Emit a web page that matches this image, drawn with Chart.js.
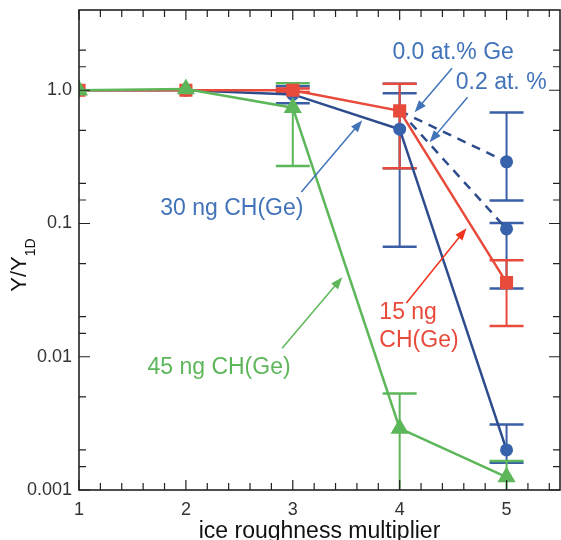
<!DOCTYPE html>
<html>
<head>
<meta charset="utf-8">
<script src="https://cdn.jsdelivr.net/npm/chart.js@4/dist/chart.umd.min.js"></script>
<style>
  html, body { margin: 0; padding: 0; background: #fff; overflow: hidden; }
  canvas { display: block; }
</style>
</head>
<body>
<canvas id="myChart" width="561" height="540"></canvas>
<script>
// Data
const roughness = [1, 2, 3, 4, 5];

const ng15 = [1.0, 1.0, 1.0, 0.70, 0.036];
const ng15Lo = [null, null, 0.97, 0.26, 0.017];
const ng15Hi = [null, null, 1.03, 1.12, 0.053];

const ng30 = [1.0, 1.0, 0.93, 0.51, 0.002];
const ng30Lo = [null, null, 0.80, 0.067, 0.0016];
const ng30Hi = [null, null, 1.07, 0.95, 0.0031];

const ng45 = [1.0, 1.02, 0.74, 0.0029, 0.00125];
const ng45Lo = [null, null, 0.27, 0.0005, 0.0008];
const ng45Hi = [null, null, 1.13, 0.0053, 0.00165];

const geX = [4, 5];
const ge00 = [0.70, 0.29];
const ge00Lo = [0.26, 0.149];
const ge00Hi = [1.12, 0.68];
const ge02 = [0.70, 0.091];
const ge02Lo = [null, 0.0325];
const ge02Hi = [null, 0.101];

const yTicks = [0.001, 0.01, 0.1, 1];
const yTickLabels = ['0.001', '0.01', '0.1', '1.0'];
const xTicks = [1, 2, 3, 4, 5];

// Colours
const red = '#e84b3b';
const green = '#5db75a';
const blueLine = '#2d4c8e';
const blueDot = '#3763ad';
const blueBar = '#3a5fa6';
const blueText = '#4273b9';
const font = '"Liberation Sans", Arial, sans-serif';

function pts(xs, ys) {
  return xs.map((x, i) => ({x: x, y: ys[i]}));
}

// error bars: drawn under the lines
const errorSets = [
  {x: geX, y: ge00, lo: ge00Lo, hi: ge00Hi, color: blueBar},
  {x: geX, y: ge02, lo: ge02Lo, hi: ge02Hi, color: blueBar},
  {x: roughness, y: ng30, lo: ng30Lo, hi: ng30Hi, color: blueBar},
  {x: roughness, y: ng15, lo: ng15Lo, hi: ng15Hi, color: red},
  {x: roughness, y: ng45, lo: ng45Lo, hi: ng45Hi, color: green}
];

// annotation text + arrows, in data units
const notes = [
  {text: '0.0 at.% Ge', x: 4.50, y: 1.93, color: blueText, align: 'center'},
  {text: '0.2 at. %', x: 4.95, y: 1.13, color: blueText, align: 'center'},
  {text: '30 ng CH(Ge)', x: 2.43, y: 0.130, color: blueText, align: 'center'},
  {text: '15 ng', x: 3.81, y: 0.0216, color: red, align: 'left'},
  {text: 'CH(Ge)', x: 3.81, y: 0.0131, color: red, align: 'left'},
  {text: '45 ng CH(Ge)', x: 2.31, y: 0.00834, color: green, align: 'center'}
];
const arrows = [
  {x1: 4.49, y1: 1.46, x2: 4.14, y2: 0.684, color: blueText},
  {x1: 4.635, y1: 0.886, x2: 4.28, y2: 0.407, color: blueText},
  {x1: 3.08, y1: 0.172, x2: 3.65, y2: 0.596, color: blueText},
  {x1: 4.063, y1: 0.0253, x2: 4.625, y2: 0.0921, color: '#f0321e'},
  {x1: 2.90, y1: 0.0116, x2: 3.464, y2: 0.0395, color: green}
];

const decorPlugin = {
  id: 'decor',
  beforeDatasetsDraw(chart) {
    const ctx = chart.ctx, a = chart.chartArea;
    const xs = chart.scales.x, ys = chart.scales.y;
    ctx.save();
    ctx.beginPath();
    ctx.rect(a.left, a.top, a.right - a.left, a.bottom - a.top);
    ctx.clip();
    errorSets.forEach(s => {
      ctx.strokeStyle = s.color;
      s.x.forEach((xv, i) => {
        if (s.lo[i] == null) return;
        const px = xs.getPixelForValue(xv);
        const pLo = ys.getPixelForValue(s.lo[i]);
        const pHi = ys.getPixelForValue(s.hi[i]);
        ctx.lineWidth = 2;
        ctx.beginPath();
        ctx.moveTo(px, pLo);
        ctx.lineTo(px, pHi);
        ctx.stroke();
        ctx.lineWidth = 2.5;
        ctx.beginPath();
        ctx.moveTo(px - 17, pLo); ctx.lineTo(px + 17, pLo);
        ctx.moveTo(px - 17, pHi); ctx.lineTo(px + 17, pHi);
        ctx.stroke();
      });
    });
    ctx.restore();
  },
  afterDatasetsDraw(chart) {
    const ctx = chart.ctx, a = chart.chartArea;
    const xs = chart.scales.x, ys = chart.scales.y;
    ctx.save();

    // frame
    ctx.strokeStyle = '#222';
    ctx.lineWidth = 1.6;
    ctx.strokeRect(a.left, a.top, a.right - a.left, a.bottom - a.top);

    // inward ticks
    ctx.lineWidth = 1.2;
    ctx.beginPath();
    for (let v = 1; v <= 5.45; v += 0.2) {
      const px = xs.getPixelForValue(v);
      const major = Math.abs(v - Math.round(v)) < 0.01;
      const len = major ? 10 : 7;
      ctx.moveTo(px, a.bottom); ctx.lineTo(px, a.bottom - len);
      ctx.moveTo(px, a.top); ctx.lineTo(px, a.top + len);
    }
    yTicks.forEach(d => {
      [[1, 11], [1.5, 7], [2, 7], [5, 7]].forEach(m => {
        const v = d * m[0];
        if (v > ys.max) return;
        const py = ys.getPixelForValue(v);
        ctx.moveTo(a.left, py); ctx.lineTo(a.left + m[1], py);
        ctx.moveTo(a.right, py); ctx.lineTo(a.right - m[1], py);
      });
    });
    ctx.stroke();

    // tick labels
    ctx.fillStyle = '#333';
    ctx.font = '18px ' + font;
    ctx.textBaseline = 'middle';
    ctx.textAlign = 'right';
    yTicks.forEach((v, i) => {
      ctx.fillText(yTickLabels[i], a.left - 7, ys.getPixelForValue(v));
    });
    ctx.textAlign = 'center';
    xTicks.forEach(v => {
      ctx.fillText(String(v), xs.getPixelForValue(v), a.bottom + 20);
    });

    // annotations
    ctx.font = '23px ' + font;
    ctx.textBaseline = 'middle';
    notes.forEach(n => {
      ctx.fillStyle = n.color;
      ctx.textAlign = n.align;
      ctx.fillText(n.text, xs.getPixelForValue(n.x), ys.getPixelForValue(n.y));
    });
    arrows.forEach(ar => {
      const x1 = xs.getPixelForValue(ar.x1), y1 = ys.getPixelForValue(ar.y1);
      const x2 = xs.getPixelForValue(ar.x2), y2 = ys.getPixelForValue(ar.y2);
      const ang = Math.atan2(y2 - y1, x2 - x1);
      ctx.strokeStyle = ar.color;
      ctx.fillStyle = ar.color;
      ctx.lineWidth = 1.5;
      ctx.beginPath();
      ctx.moveTo(x1, y1);
      ctx.lineTo(x2 - 9 * Math.cos(ang), y2 - 9 * Math.sin(ang));
      ctx.stroke();
      ctx.beginPath();
      ctx.moveTo(x2, y2);
      ctx.lineTo(x2 - 12 * Math.cos(ang) + 4.5 * Math.sin(ang), y2 - 12 * Math.sin(ang) - 4.5 * Math.cos(ang));
      ctx.lineTo(x2 - 12 * Math.cos(ang) - 4.5 * Math.sin(ang), y2 - 12 * Math.sin(ang) + 4.5 * Math.cos(ang));
      ctx.closePath();
      ctx.fill();
    });

    // axis titles
    ctx.fillStyle = '#111';
    ctx.textAlign = 'center';
    ctx.textBaseline = 'alphabetic';
    ctx.font = '23px ' + font;
    ctx.fillText('ice roughness multiplier', (a.left + a.right) / 2, 538);

    ctx.translate(26, 265);
    ctx.rotate(-Math.PI / 2);
    ctx.font = '22px ' + font;
    const w1 = ctx.measureText('Y/Y').width;
    ctx.font = '14px ' + font;
    const w2 = ctx.measureText('1D').width;
    ctx.textAlign = 'left';
    ctx.font = '22px ' + font;
    ctx.fillText('Y/Y', -(w1 + w2) / 2, 0);
    ctx.font = '14px ' + font;
    ctx.fillText('1D', -(w1 + w2) / 2 + w1, 9);
    ctx.restore();
  }
};

const ctx = document.getElementById('myChart');

new Chart(ctx, {
  type: 'line',
  data: {
    datasets: [
      {
        label: '45 ng CH(Ge)',
        data: pts(roughness, ng45),
        borderColor: green, backgroundColor: green,
        borderWidth: 2.5, pointStyle: 'triangle', pointRadius: 8, clip: 0
      },
      {
        label: '15 ng CH(Ge)',
        data: pts(roughness, ng15),
        borderColor: red, backgroundColor: red,
        borderWidth: 2.5, pointStyle: 'rect', pointRadius: 7.5, clip: 0
      },
      {
        label: '30 ng CH(Ge)',
        data: pts(roughness, ng30),
        borderColor: blueLine, backgroundColor: blueDot,
        borderWidth: 2.5, pointStyle: 'circle', pointRadius: 6.5, pointBorderWidth: 0, clip: 0
      },
      {
        label: '0.0 at.% Ge',
        data: pts(geX, ge00),
        borderColor: blueLine, backgroundColor: blueDot,
        borderWidth: 2.5, borderDash: [9, 7],
        pointRadius: [0, 6.5], pointBorderWidth: 0, clip: 0
      },
      {
        label: '0.2 at. %',
        data: pts(geX, ge02),
        borderColor: blueLine, backgroundColor: blueDot,
        borderWidth: 2.5, borderDash: [9, 7],
        pointRadius: [0, 6.5], pointBorderWidth: 0, clip: 0
      }
    ]
  },
  options: {
    responsive: false,
    animation: false,
    layout: { autoPadding: false, padding: { top: 10, right: 1, left: 0, bottom: 0 } },
    plugins: { legend: { display: false }, tooltip: { enabled: false } },
    scales: {
      x: {
        type: 'linear',
        min: 1, max: 5.5,
        grid: { display: false, drawTicks: false },
        border: { display: false },
        afterBuildTicks: s => { s.ticks = xTicks.map(v => ({value: v})); },
        afterFit: s => { s.height = 50; },
        ticks: { display: false }
      },
      y: {
        type: 'logarithmic',
        min: 0.001, max: 4,
        grid: { display: false, drawTicks: false },
        border: { display: false },
        afterBuildTicks: s => { s.ticks = yTicks.map(v => ({value: v})); },
        afterFit: s => { s.width = 79; },
        ticks: { display: false }
      }
    }
  },
  plugins: [decorPlugin]
});
</script>
</body>
</html>
